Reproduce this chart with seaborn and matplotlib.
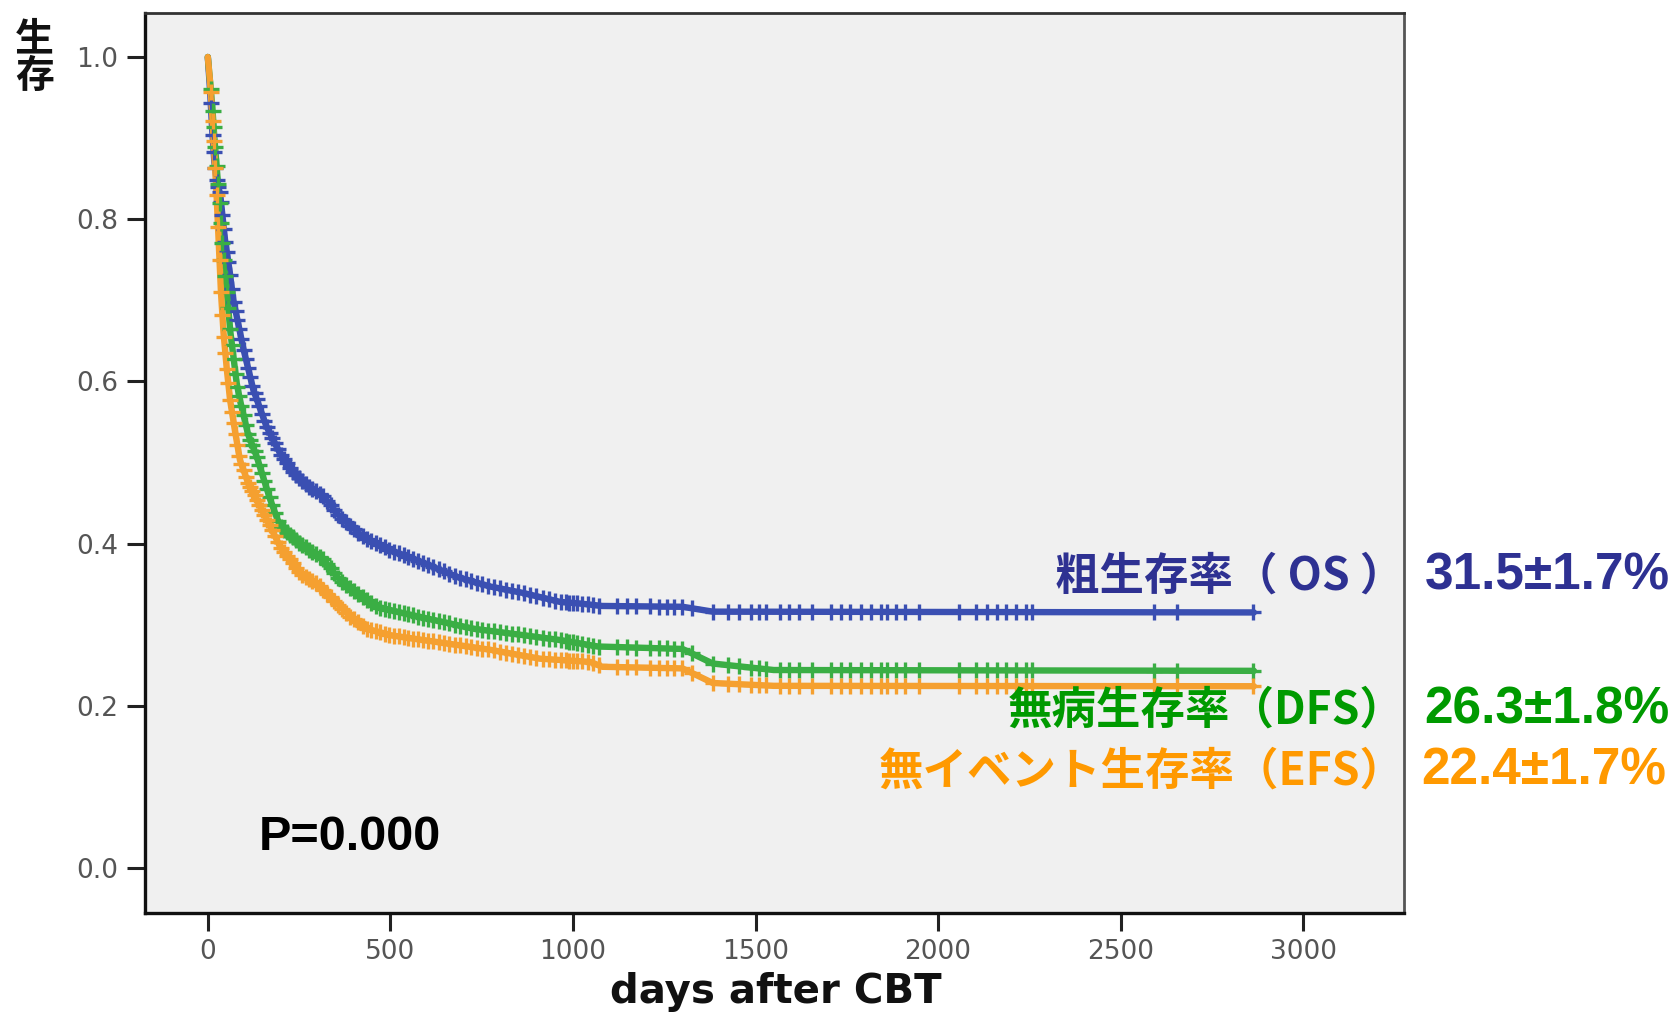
import numpy as np
import pandas as pd
import matplotlib
matplotlib.use("Agg")
import matplotlib.pyplot as plt
import seaborn as sns

# Kaplan-Meier estimates (days after CBT, survival probability)
os_days = [0, 6, 12, 18, 25, 34, 47, 60, 70, 98, 125, 161, 198, 234, 271, 317, 362,
           426, 499, 590, 682, 773, 864, 965, 1020, 1080, 1300, 1383, 2865]
os_surv = [1.0, 0.96, 0.91, 0.87, 0.845, 0.83, 0.775, 0.735, 0.700, 0.639, 0.589, 0.544,
           0.511, 0.487, 0.472, 0.458, 0.433, 0.408, 0.392, 0.376, 0.359, 0.347, 0.339,
           0.328, 0.326, 0.323, 0.322, 0.316, 0.315]

dfs_days = [0, 6, 12, 18, 25, 32, 40, 50, 62, 79, 88, 110, 134, 171, 198, 253, 317, 362,
            408, 463, 536, 636, 727, 864, 965, 1069, 1300, 1383, 1550, 2865]
dfs_surv = [1.0, 0.97, 0.94, 0.90, 0.86, 0.82, 0.77, 0.72, 0.66, 0.598, 0.577, 0.535,
            0.507, 0.454, 0.421, 0.400, 0.380, 0.355, 0.339, 0.322, 0.314, 0.304, 0.295,
            0.287, 0.281, 0.273, 0.270, 0.252, 0.244, 0.243]

efs_days = [0, 6, 12, 18, 24, 30, 36, 43, 52, 61, 74, 88, 110, 134, 171, 198, 253, 298,
            344, 390, 435, 499, 590, 682, 773, 910, 1047, 1080, 1300, 1383, 1550, 2865]
efs_surv = [1.0, 0.97, 0.93, 0.88, 0.83, 0.77, 0.71, 0.66, 0.615, 0.577, 0.54, 0.503,
            0.475, 0.454, 0.421, 0.396, 0.363, 0.351, 0.330, 0.310, 0.295, 0.287, 0.281,
            0.275, 0.269, 0.258, 0.254, 0.248, 0.246, 0.228, 0.2245, 0.224]

# censored observations (days)
censor_days = [8, 13, 16, 20, 24, 28, 32, 36, 40, 44, 48, 52, 56, 61, 66, 71, 76, 81, 86,
               92, 98, 104, 110, 116, 122, 128, 134, 141, 148, 155, 162, 169, 176, 184,
               192, 200, 208, 216, 224, 232, 241, 250, 259, 268, 277, 286, 296, 306, 316,
               326, 336, 346, 357, 368, 379, 390, 401, 412, 424, 436, 448, 460, 472, 484,
               497, 510, 523, 536, 549, 562, 576, 590, 604, 618, 632, 646, 661, 676, 691,
               706, 721, 736, 752, 768, 784, 800, 816, 832, 849, 866, 883, 900, 917, 934,
               951, 968, 980, 990, 1000, 1010, 1025, 1040, 1055, 1070, 1121, 1148, 1173,
               1210, 1236, 1257, 1278, 1299, 1325, 1383, 1425, 1455, 1488, 1510, 1529,
               1566, 1592, 1618, 1655, 1707, 1733, 1759, 1790, 1816, 1843, 1860, 1885,
               1910, 1947, 2057, 2104, 2135, 2161, 2187, 2214, 2240, 2256, 2590, 2655, 2862]

series_names = ["OS", "DFS", "EFS"]
curve_colors = ["#3a4fb2", "#3aae44", "#f5a030"]
label_colors = ["#2e3192", "#009a00", "#ff9900"]
label_texts = ["粗生存率（ OS ）", "無病生存率（DFS）", "無イベント生存率（EFS）"]
rate_texts = ["31.5±1.7%", "26.3±1.8%", "22.4±1.7%"]
p_text = "P=0.000"

x_ticks = [0, 500, 1000, 1500, 2000, 2500, 3000]
y_ticks = [0.0, 0.2, 0.4, 0.6, 0.8, 1.0]

sns.set_theme(style="ticks")
plt.rcParams["font.family"] = ["Noto Sans CJK JP", "DejaVu Sans"]

fig = plt.figure(figsize=(16.8, 10.16), dpi=100)
ax = fig.add_axes([0.0861, 0.1015, 0.7494, 0.8855])
ax.set_facecolor("#f0f0f0")

curves = pd.concat([
    pd.DataFrame({"days": d, "surv": s, "series": n})
    for d, s, n in [(os_days, os_surv, "OS"), (dfs_days, dfs_surv, "DFS"),
                    (efs_days, efs_surv, "EFS")]
])
palette = dict(zip(series_names, curve_colors))

sns.lineplot(data=curves, x="days", y="surv", hue="series", palette=palette,
             estimator=None, sort=False, linewidth=4.6, legend=False, ax=ax, zorder=3)

# censor marks sit on each curve
for d, s, n in [(os_days, os_surv, "OS"), (dfs_days, dfs_surv, "DFS"),
                (efs_days, efs_surv, "EFS")]:
    cd = np.array(censor_days, dtype=float)
    cd = cd[cd <= max(d)]
    cy = np.interp(cd, d, s)
    sns.scatterplot(x=cd, y=cy, marker="+", s=125, linewidth=2.4,
                    color=palette[n], ax=ax, zorder=4, legend=False)

ax.set_xlim(-173, 3275)
ax.set_ylim(-0.0555, 1.054)
ax.set_xticks(x_ticks)
ax.set_xticklabels([str(v) for v in x_ticks])
ax.set_yticks(y_ticks)
ax.set_yticklabels([f"{v:.1f}" for v in y_ticks])
ax.tick_params(axis="both", length=13, width=2.2, color="#222222",
               labelsize=19, labelcolor="#555555", pad=6)
for lab in ax.get_xticklabels() + ax.get_yticklabels():
    lab.set_family("DejaVu Sans")
ax.set_xlabel("")
ax.set_ylabel("")
ax.grid(False)

for side in ["left", "bottom"]:
    ax.spines[side].set_color("#111111")
    ax.spines[side].set_linewidth(2.4)
ax.spines["top"].set_color("#333333")
ax.spines["top"].set_linewidth(2.0)
ax.spines["right"].set_color("#555555")
ax.spines["right"].set_linewidth(2.0)

# axis titles
fig.text(0.0205, 0.943, "生\n存", ha="center", va="center", fontsize=28,
         fontweight="bold", color="#111111", linespacing=0.95)
fig.text(0.4617, 0.004, "days after CBT", ha="center", va="bottom", fontsize=29,
         fontweight="bold", color="#111111", family="DejaVu Sans")

# p-value
fig.text(0.154, 0.176, p_text, ha="left", va="center", fontsize=35,
         fontweight="bold", color="black", family="Liberation Sans")

# per-curve summaries
label_y = [0.433, 0.301, 0.241]
rate_x = [0.848, 0.848, 0.846]
for txt, rate, col, yy, rx in zip(label_texts, rate_texts, label_colors, label_y, rate_x):
    fig.text(0.836, yy, txt, ha="right", va="center", fontsize=32,
             fontweight="bold", color=col)
    fig.text(rx, yy, rate, ha="left", va="center", fontsize=37,
             fontweight="bold", color=col, family="Liberation Sans")

fig.savefig("out.png", dpi=100, facecolor="white")
